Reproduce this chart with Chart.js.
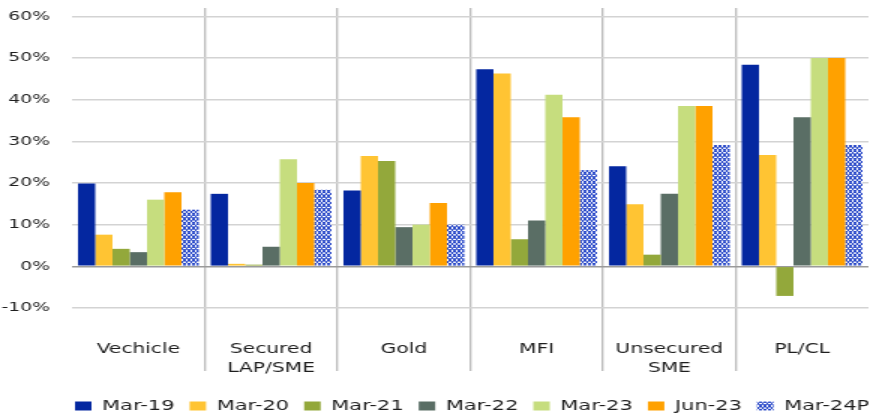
<!DOCTYPE html>
<html><head><meta charset="utf-8">
<script src="https://cdn.jsdelivr.net/npm/chart.js@4"></script>
<style>
html,body{margin:0;padding:0;background:#fff;overflow:hidden;width:873px;height:416px}
#wrap{position:absolute;left:0;top:0;width:582px;height:416px;transform:scaleX(1.5);transform-origin:0 0}
canvas{display:block}
</style></head><body>
<div id="wrap"><canvas id="c" width="582" height="416" style="width:582px;height:416px"></canvas></div>
<script>
const categories = ['Vechicle', ['Secured', 'LAP/SME'], 'Gold', 'MFI', ['Unsecured', 'SME'], 'PL/CL'];
const seriesNames = ['Mar-19', 'Mar-20', 'Mar-21', 'Mar-22', 'Mar-23', 'Jun-23', 'Mar-24P'];
const mar19  = [19.9, 17.4, 18.2, 47.3, 24.0, 48.4];
const mar20  = [7.6, 0.6, 26.5, 46.3, 14.9, 26.7];
const mar21  = [4.2, 0.4, 25.3, 6.5, 2.8, -7.1];
const mar22  = [3.4, 4.7, 9.4, 11.0, 17.4, 35.8];
const mar23  = [16.0, 25.7, 10.0, 41.2, 38.5, 50.0];
const jun23  = [17.8, 20.0, 15.2, 35.8, 38.5, 50.0];
const mar24P = [13.6, 18.4, 10.0, 23.1, 29.1, 29.1];
const yMin = -10, yMax = 62, yStep = 10;

const FONT = "'DejaVu Sans', sans-serif";
const TEXT = '#1e1e1e';

function makePattern() {
  const t = document.createElement('canvas');
  t.width = 12; t.height = 12;
  const g = t.getContext('2d');
  g.fillStyle = '#ffffff'; g.fillRect(0, 0, 12, 12);
  g.strokeStyle = '#2747c8'; g.lineWidth = 3.2;
  g.beginPath();
  g.moveTo(-2, -2); g.lineTo(14, 14);
  g.moveTo(14, -2); g.lineTo(-2, 14);
  g.stroke();
  const ctx = document.getElementById('c').getContext('2d');
  const p = ctx.createPattern(t, 'repeat');
  p.setTransform(new DOMMatrix([0.25, 0, 0, 0.38, 0, 0]));
  return p;
}
const pattern = makePattern();

const colors = ['#0427a0', '#ffc433', '#93a83b', '#5a6e65', '#c6dd7e', '#ffa100', pattern];
const values = [mar19, mar20, mar21, mar22, mar23, jun23, mar24P];

const legendShift = {
  id: 'legendShift',
  afterLayout(chart) {
    const l = chart.legend;
    if (!l) return;
    l.left += 40; l.right += 40;
    l.top += 7; l.bottom += 7;
  }
};

new Chart(document.getElementById('c'), {
  type: 'bar',
  data: {
    labels: categories,
    datasets: seriesNames.map((n, i) => ({
      label: n, data: values[i], backgroundColor: colors[i], borderWidth: 0,
      categoryPercentage: 0.91, barPercentage: 1.0
    }))
  },
  plugins: [legendShift],
  options: {
    responsive: false, animation: false,
    layout: { padding: { left: 0, right: 3, top: 8, bottom: 0 } },
    plugins: {
      tooltip: { enabled: false },
      legend: {
        position: 'bottom', align: 'start',
        labels: { boxWidth: 11, boxHeight: 9, padding: 10, color: TEXT, font: { family: FONT, size: 14 } }
      }
    },
    scales: {
      x: {
        border: { display: false },
        grid: {
          offset: true, tickLength: 63, lineWidth: 1.35,
          color: c => (c.type === 'tick' && c.index > 0) ? '#bdbdbd' : 'rgba(0,0,0,0)'
        },
        ticks: { padding: -30.5, color: TEXT, maxRotation: 0, autoSkip: false,
          font: { family: FONT, size: 13.5, lineHeight: 1.4 } },
        afterFit: s => { s.height = 74; }
      },
      y: {
        min: yMin, max: yMax,
        border: { display: false },
        grid: { drawTicks: false, lineWidth: 1.5,
          color: c => (c.tick && Math.abs(c.tick.value) < 1e-9) ? '#9a9a9a' : '#d3d3d3' },
        ticks: { stepSize: yStep, includeBounds: false, padding: 14.7, color: TEXT,
          font: { family: FONT, size: 12.5 }, callback: v => Math.round(v) + '%' },
        afterFit: s => { s.width = 48; s.paddingTop = 0; s.paddingBottom = 0; }
      }
    }
  }
});
</script>
</body></html>
